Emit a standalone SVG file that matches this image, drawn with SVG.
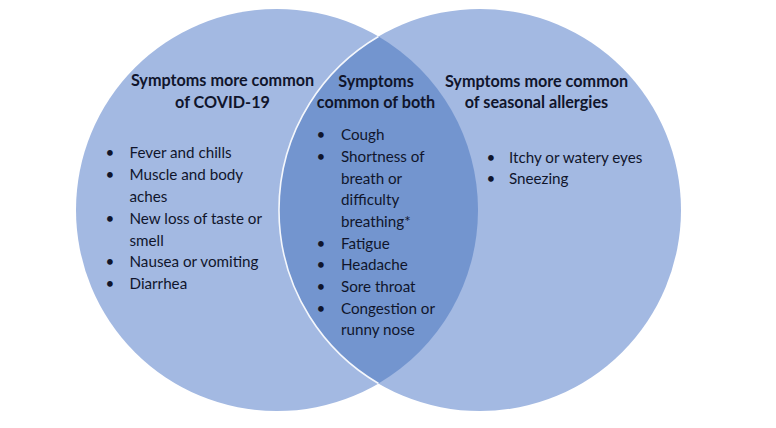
<svg xmlns="http://www.w3.org/2000/svg" width="776" height="428" viewBox="0 0 776 428">
<style>
.c{fill:#A3B9E2}
.lens{fill:#7395CF}
.edge{fill:none;stroke:#F4F7FC;stroke-width:1.6}
text{font-family:Lato,"Open Sans","Liberation Sans",sans-serif;fill:#10152c}
.t{font-size:16.2px;font-weight:bold;text-anchor:middle}
.b{font-size:15.2px}
</style>
<rect width="776" height="428" fill="#ffffff"/>
<g id="covid">
<circle class="c" cx="277" cy="210" r="201"/>
</g>
<g id="allergies">
<circle class="c" cx="480" cy="210" r="201"/>
</g>
<g id="both">
<path class="lens" d="M378.5,36.5 A201,201 0 0,1 378.5,383.5 A201,201 0 0,1 378.5,36.5 Z"/>
<path class="edge" d="M378.5,383.5 A201,201 0 0,1 378.5,36.5"/>
</g>
<g id="covid-text">
<text class="t" x="222.5" y="86">Symptoms more common</text>
<text class="t" x="222.5" y="108">of COVID-19</text>
<g class="b">
<text x="105.5" y="158">•</text><text x="129.5" y="158">Fever and chills</text>
<text x="105.5" y="180">•</text><text x="129.5" y="180">Muscle and body</text>
<text x="129.5" y="202">aches</text>
<text x="105.5" y="224">•</text><text x="129.5" y="224">New loss of taste or</text>
<text x="129.5" y="245.5">smell</text>
<text x="105.5" y="267">•</text><text x="129.5" y="267">Nausea or vomiting</text>
<text x="105.5" y="289">•</text><text x="129.5" y="289">Diarrhea</text>
</g>
</g>
<g id="both-text">
<text class="t" x="376" y="87">Symptoms</text>
<text class="t" x="376" y="108">common of both</text>
<g class="b">
<text x="316.5" y="140">•</text><text x="341" y="140">Cough</text>
<text x="316.5" y="162">•</text><text x="341" y="162">Shortness of</text>
<text x="341" y="183.5">breath or</text>
<text x="341" y="205">difficulty</text>
<text x="341" y="227">breathing*</text>
<text x="316.5" y="248.5">•</text><text x="341" y="248.5">Fatigue</text>
<text x="316.5" y="270">•</text><text x="341" y="270">Headache</text>
<text x="316.5" y="292">•</text><text x="341" y="292">Sore throat</text>
<text x="316.5" y="313.5">•</text><text x="341" y="313.5">Congestion or</text>
<text x="341" y="335">runny nose</text>
</g>
</g>
<g id="allergies-text">
<text class="t" x="536.5" y="87">Symptoms more common</text>
<text class="t" x="536.5" y="108">of seasonal allergies</text>
<g class="b">
<text x="486.5" y="163">•</text><text x="509" y="163">Itchy or watery eyes</text>
<text x="486.5" y="184">•</text><text x="509" y="184">Sneezing</text>
</g>
</g>
<g id="connectors"></g>
</svg>
